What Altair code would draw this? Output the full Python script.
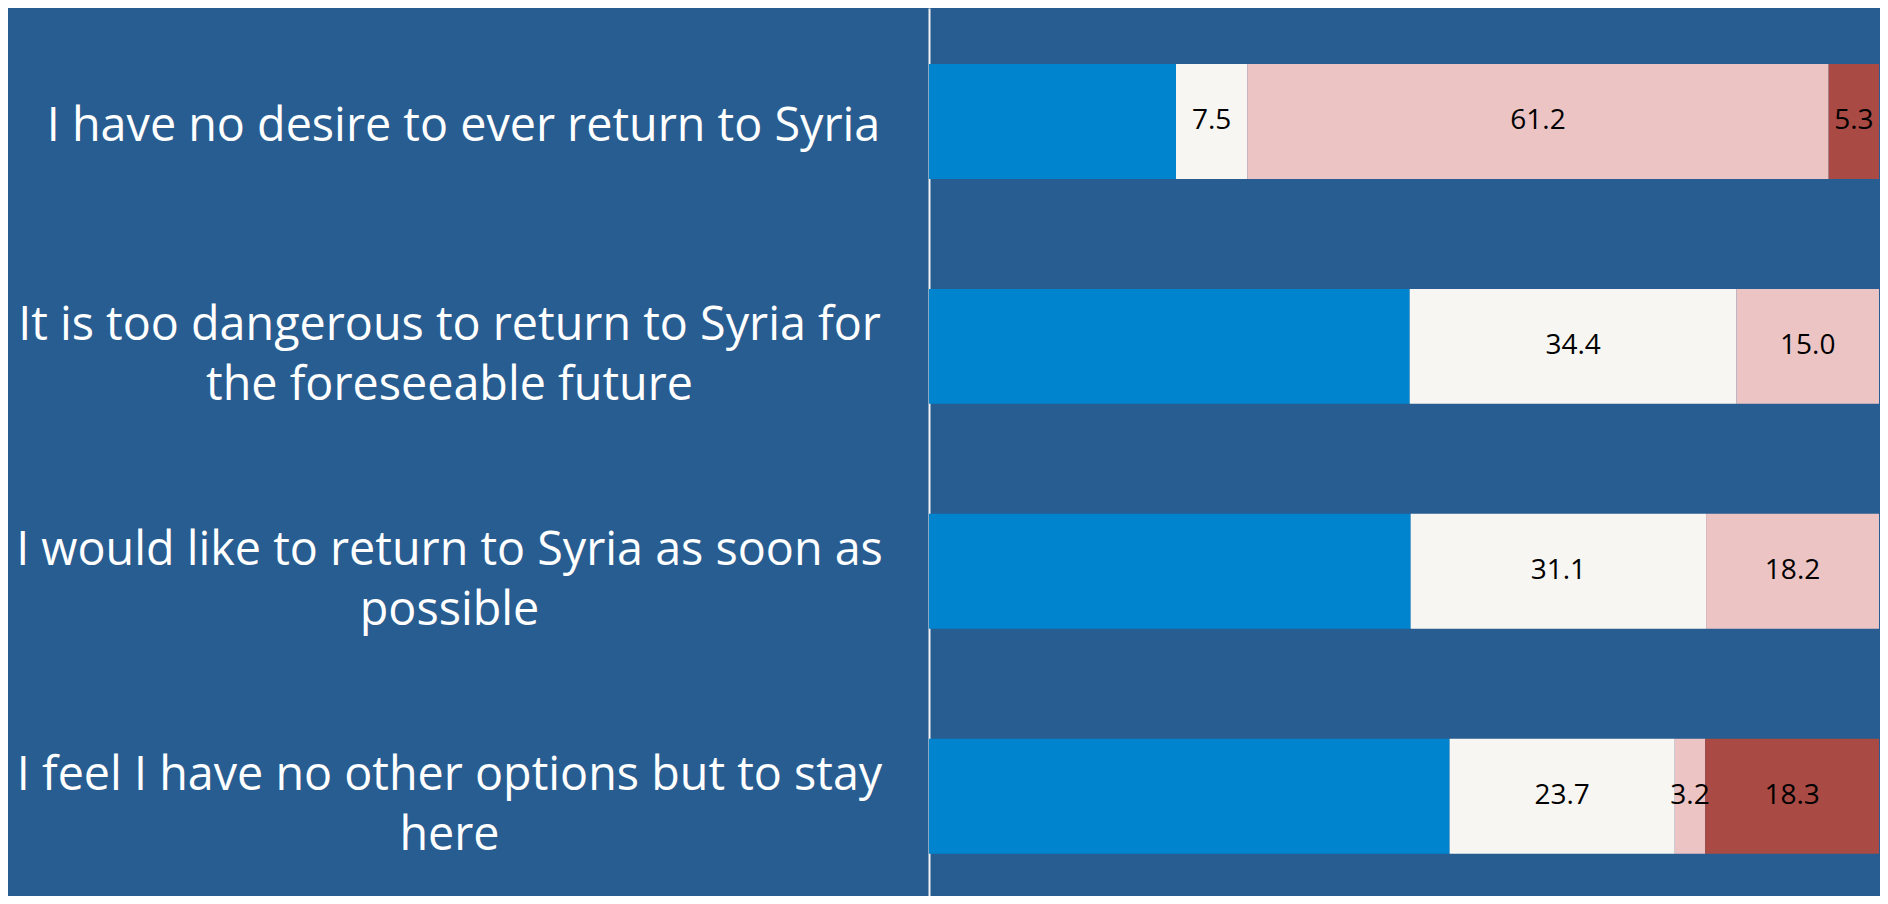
import altair as alt
import pandas as pd

categories = [
    "I have no desire to ever return to Syria",
    "It is too dangerous to return to Syria for\nthe foreseeable future",
    "I would like to return to Syria as soon as\npossible",
    "I feel I have no other options but to stay\nhere",
]
segments = ["s1", "s2", "s3", "s4"]
seg_blue = [26.0, 50.6, 50.7, 54.8]
seg_white = [7.5, 34.4, 31.1, 23.7]
seg_pink = [61.2, 15.0, 18.2, 3.2]
seg_red = [5.3, 0.0, 0.0, 18.3]
colors = ["#0084CE", "#F7F6F2", "#ECC4C4", "#A94B44"]

rows = []
for series_idx, (seg, vals) in enumerate(zip(segments, [seg_blue, seg_white, seg_pink, seg_red])):
    for c, v in zip(categories, vals):
        rows.append({"cat": c, "seg": seg, "k": series_idx, "v": v,
                     "lbl": f"{v:.1f}"})
df = pd.DataFrame(rows)

base = alt.Chart(df).transform_stack(
    stack="v", groupby=["cat"], as_=["v0", "v1"], sort=[alt.SortField("k")]
).transform_calculate(mid="(datum.v0 + datum.v1) / 2")

multi_test = "indexof(datum.value, '\\n') >= 0"

yenc = alt.Y(
    "cat:N",
    sort=categories,
    title=None,
    scale=alt.Scale(paddingInner=0.489, paddingOuter=0.218, align=0.57),
    axis=alt.Axis(
        labelExpr="split(datum.label, '\\n')",
        labelFont="Open Sans",
        labelFontSize=46.7,
        labelLineHeight=60,
        labelColor="white",
        labelAlign="center",
        labelBaseline="middle",
        labelPadding={"condition": {"test": multi_test, "value": 480}, "value": 466},
        labelOffset={"condition": {"test": multi_test, "value": -20}, "value": 6},
        labelLimit=1200,
        ticks=False,
        tickSize=0,
        domainColor="#f2f2f2",
        domainWidth=2,
        grid=False,
    ),
)

bars = base.mark_bar().encode(
    x=alt.X("v0:Q", scale=alt.Scale(domain=[0, 100], nice=False, zero=True), axis=None),
    x2="v1:Q",
    y=yenc,
    color=alt.Color("seg:N", scale=alt.Scale(domain=segments, range=colors), legend=None),
)

texts = base.transform_filter(
    "datum.k > 0 && datum.v > 0"
).mark_text(
    font="Open Sans", fontSize=28, color="black", baseline="middle", align="center"
).encode(
    x=alt.X("mid:Q"),
    y=alt.Y("cat:N", sort=categories),
    text="lbl:N",
)

chart = alt.layer(bars, texts).properties(
    width=950,
    height=888,
    autosize=alt.AutoSizeParams(type="none"),
    padding={"left": 921, "top": 0, "right": 1, "bottom": 0},
    background="#285D91",
).configure_view(stroke=None)

chart.save("out.html", embed_options={"renderer": "svg", "actions": False})
